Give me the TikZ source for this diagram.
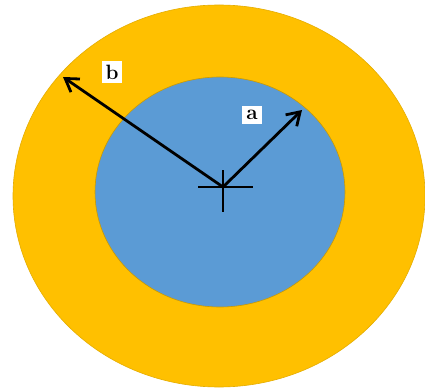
\documentclass[tikz,border=0pt]{standalone}
\usepackage{tikz}
\usetikzlibrary{arrows.meta}
\definecolor{ringorange}{RGB}{255,192,0}
\definecolor{coreblue}{RGB}{91,155,213}
\tikzset{
  radius arrow/.style={line width=2.8pt,-{Straight Barb[length=4.4mm,width=5.6mm,line width=2.8pt]}},
  radius label/.style={fill=white,inner sep=4pt,font=\huge\bfseries}
}
\begin{document}
\begin{tikzpicture}[x=1pt,y=-1pt]
  \useasboundingbox (0,0) rectangle (425,390);
  \fill[white] (0,0) rectangle (425,390);
  % outer ring
  \draw[ringorange!90!black,fill=ringorange,line width=.6pt] (219,196) ellipse [x radius=206,y radius=191];
  % inner core
  \draw[ringorange!80!black,fill=coreblue,line width=.6pt] (220,192) ellipse [x radius=125,y radius=115];
  % centre mark
  \coordinate (o) at (223,187);
  \draw[line width=2.8pt] (198,187)--(253,187);
  \draw[line width=2.8pt] (223,170)--(223,212);
  % radii
  \coordinate (ta) at (302,110);
  \coordinate (tb) at (63,77);
  \draw[radius arrow] (o)--(ta);
  \draw[radius arrow] (o)--(tb);
  \node[radius label] (la) at (252,115) {a};
  \node[radius label] (lb) at (112,72) {b};
\end{tikzpicture}
\end{document}
